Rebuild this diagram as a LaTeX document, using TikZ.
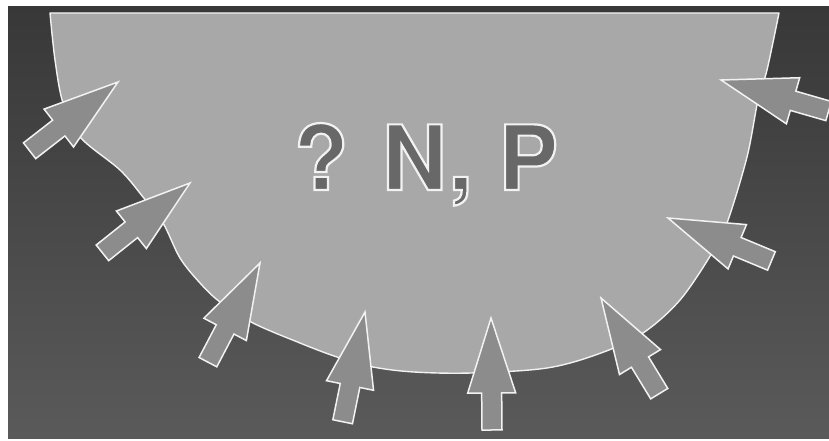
\documentclass[tikz,border=0pt]{standalone}
\usepackage{fontspec}
\setsansfont{TeX Gyre Heros}
\usetikzlibrary{calc}
\definecolor{backdark}{HTML}{383838}
\definecolor{backmid}{HTML}{343434}
\definecolor{backlight}{HTML}{5A5A5A}
\definecolor{bowlgray}{HTML}{A8A8A8}
\definecolor{arrowgray}{HTML}{8C8C8C}
\definecolor{textgray}{HTML}{686868}
\definecolor{rimwhite}{HTML}{F2F2F2}
\newcommand\rimtext[1]{\special{pdf:literal direct 0.95 G 2.2 w 2 Tr}#1\special{pdf:literal direct 0 Tr}}
\tikzset{
  backdrop/.style={top color=backdark,middle color=backmid,bottom color=backlight},
  bowl/.style={draw=rimwhite,fill=bowlgray,line width=1.4pt,line join=round},
  blockarrow/.style={draw=rimwhite,fill=arrowgray,line width=1.5pt,line join=miter},
  bigtext/.style={font=\sffamily\bfseries\fontsize{90}{90}\selectfont,text=textgray},
  inarrow/.pic={\draw[blockarrow] (0,0) -- (-75,24) -- (-75,10) -- (-112,10) -- (-112,-10) -- (-75,-10) -- (-75,-24) -- cycle;}
}

\begin{document}
\begin{tikzpicture}[x=1pt,y=-1pt]
\useasboundingbox (0,0) rectangle (829,441);
\fill[white] (0,0) rectangle (829,441);
\shade[backdrop] (8,7) rectangle (829,438);
\draw[bowl] (50,13) -- (779,13) -- plot[smooth,tension=0.55] coordinates {(779,13) (767,70) (758,100) (747,157) (727,223) (712,253) (680,300) (643,333) (601,353) (547,368) (471,373) (414,372) (373,367) (337,357) (300,343) (253,323) (220,302) (200,283) (180,258) (163,223) (143,197) (120,170) (80,137) (63,103) (55,60) (50,13)} -- cycle;
\node[bigtext,anchor=base] (label) at (426,190) {\rimtext{? N, P}};
\foreach \k/\tx/\ty/\bx/\by in {1/118/82/28/152, 2/190/183/101/254, 3/260/263/208/362, 4/365/312/343/420, 5/491/318/492/430, 6/601/298/657/390, 7/668/218/774/262, 8/721/80/825/110}{
  \coordinate (tip\k) at (\tx,\ty); \coordinate (tail\k) at (\bx,\by);
  \path let \p1=($(tip\k)-(tail\k)$), \n1={atan2(\y1,\x1)} in pic[rotate=\n1] at (tip\k) {inarrow};
}
\end{tikzpicture}
\end{document}
